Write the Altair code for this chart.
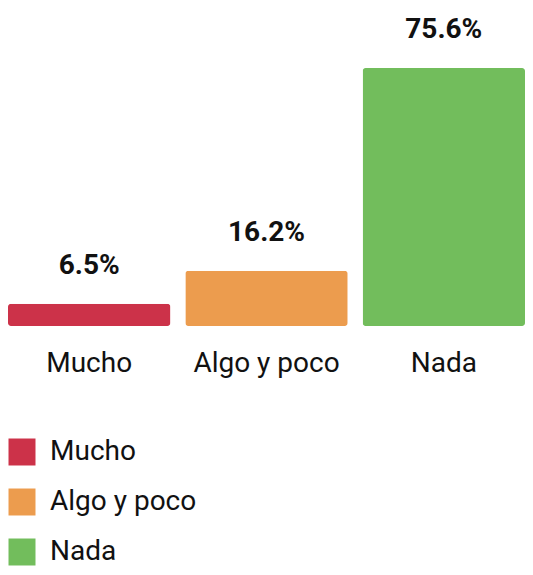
import altair as alt
import pandas as pd

categories = ["Mucho", "Algo y poco", "Nada"]
values = [6.5, 16.2, 75.6]
labels = ["6.5%", "16.2%", "75.6%"]
colors = ["#CC3249", "#EC9C4E", "#72BD5C"]

df = pd.DataFrame({"cat": categories, "val": values, "label": labels})

FONT = "Roboto"

x = alt.X("cat:N", sort=categories,
          scale=alt.Scale(paddingInner=0.084, paddingOuter=0),
          axis=alt.Axis(title=None, domain=False, ticks=False, labelAngle=0,
                        labelFontSize=28, labelFont=FONT, labelColor="#111",
                        labelPadding=23, labelBaseline="top"))
y = alt.Y("val:Q", scale=alt.Scale(domain=[0, 75.6], nice=False),
          axis=None)

color = alt.Color("cat:N", sort=categories,
                  scale=alt.Scale(domain=categories, range=colors),
                  legend=alt.Legend(title=None, orient="none", legendX=0, legendY=370,
                                    direction="vertical", symbolType="square",
                                    symbolSize=729, symbolStrokeWidth=0,
                                    symbolOpacity=1,
                                    labelFontSize=28, labelFont=FONT, labelColor="#111",
                                    labelOffset=14, rowPadding=22, symbolOffset=0))

bars = alt.Chart(df).mark_bar(cornerRadius=3).encode(x=x, y=y, color=color)

text = alt.Chart(df).mark_text(fontSize=28, fontWeight="bold", font=FONT,
                               baseline="middle", dy=-38, color="#111").encode(
    x=alt.X("cat:N", sort=categories), y="val:Q", text="label:N")

chart = alt.layer(bars, text).properties(
    width=517, height=258,
    autosize=alt.AutoSizeParams(type="none"),
    padding={"left": 0, "top": 60, "right": 0, "bottom": 241},
).configure_view(stroke=None)

chart.save("out.html", embed_options={"renderer": "svg", "actions": False})
